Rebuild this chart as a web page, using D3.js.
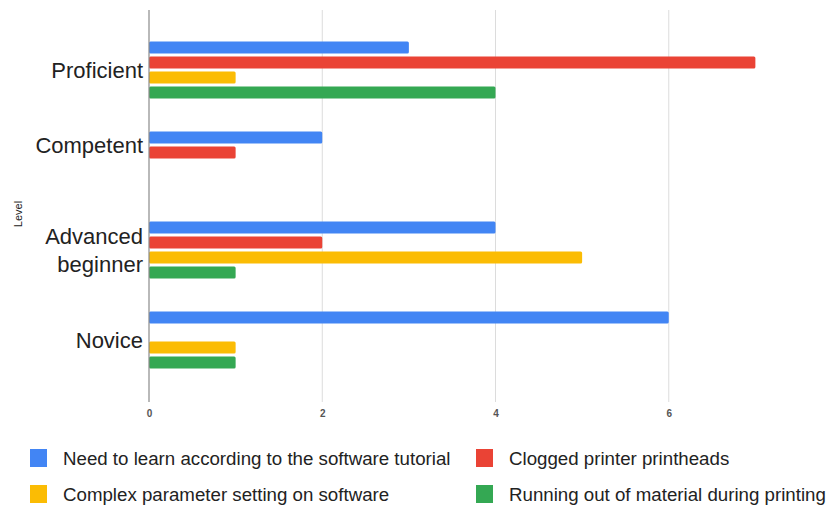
<!DOCTYPE html>
<html>
<head>
<meta charset="utf-8">
<script src="https://cdn.jsdelivr.net/npm/d3@7/dist/d3.min.js"></script>
<style>
  html, body { margin: 0; padding: 0; background: #fff; }
  svg { display: block; font-family: "Liberation Sans", Arial, Helvetica, sans-serif; }
</style>
</head>
<body>
<svg id="chart" width="838" height="508"></svg>
<script>
// ---- data ----
const categories = ["Proficient", "Competent", "Advanced beginner", "Novice"];
const seriesNames = [
  "Need to learn according to the software tutorial",
  "Clogged printer printheads",
  "Complex parameter setting on software",
  "Running out of material during printing"
];
const tutorialValues = [3, 2, 4, 6];
const cloggedValues  = [7, 1, 2, 0];
const complexValues  = [1, 0, 5, 1];
const materialValues = [4, 0, 1, 1];
const xTicks = [0, 2, 4, 6];
const seriesColors = ["#4285F4", "#EA4335", "#FBBC04", "#34A853"];
const axisTitle = "Level";

const seriesValues = [tutorialValues, cloggedValues, complexValues, materialValues];

const svg = d3.select("#chart");

const x = d3.scaleLinear().domain([0, 8]).range([149, 842]);
const y0 = d3.scaleBand().domain(categories).range([10, 400])
  .paddingInner(1 / 3).paddingOuter(1 / 3);
const y1 = d3.scaleBand().domain(seriesNames).range([0, y0.bandwidth()])
  .paddingInner(0.2).paddingOuter(0.1);

// gridlines
const grid = svg.append("g");
grid.selectAll("line.grid")
  .data(xTicks.filter(d => d !== 0))
  .join("line")
  .attr("class", "grid")
  .attr("x1", d => x(d)).attr("x2", d => x(d))
  .attr("y1", 10).attr("y2", 402)
  .attr("stroke", "#dcdcdc").attr("stroke-width", 1);

// x axis labels
const xAxis = d3.axisBottom(x).tickValues(xTicks).tickSize(0).tickPadding(8);
const xg = svg.append("g").attr("transform", "translate(0,402)").call(xAxis);
xg.select(".domain").remove();
xg.selectAll("text")
  .attr("font-size", 10).attr("font-weight", "bold")
  .attr("fill", "#555").attr("font-family", "Liberation Sans, Arial, sans-serif");

// bars
const groups = svg.append("g").selectAll("g")
  .data(categories)
  .join("g")
  .attr("transform", c => `translate(0,${y0(c)})`);

groups.selectAll("rect")
  .data((c, ci) => seriesNames.map((s, si) => ({ s, si, v: seriesValues[si][ci] })).filter(d => d.v > 0))
  .join("rect")
  .attr("x", x(0))
  .attr("y", d => y1(d.s))
  .attr("width", d => x(d.v) - x(0))
  .attr("height", y1.bandwidth())
  .attr("rx", 1.5)
  .attr("fill", d => seriesColors[d.si]);

// baseline axis at 0
svg.append("line")
  .attr("x1", x(0)).attr("x2", x(0))
  .attr("y1", 10).attr("y2", 402)
  .attr("stroke", "#8a8a8a").attr("stroke-width", 1.2);

// category labels (centered on the extent of the non-zero bars)
const labelG = svg.append("g");
categories.forEach((c, ci) => {
  const present = seriesNames.filter((s, si) => seriesValues[si][ci] > 0);
  const top = y0(c) + y1(present[0]) - y1.step() * y1.paddingInner() / 2;
  const bot = y0(c) + y1(present[present.length - 1]) + y1.bandwidth() + y1.step() * y1.paddingInner() / 2;
  const cy = (top + bot) / 2;
  const words = c === "Advanced beginner" ? ["Advanced", "beginner"] : [c];
  const lh = 28;
  const t = labelG.append("text")
    .attr("text-anchor", "end")
    .attr("font-size", 22)
    .attr("fill", "#222");
  words.forEach((w, i) => {
    t.append("tspan")
      .attr("x", x(0) - 6)
      .attr("y", cy + (i - (words.length - 1) / 2) * lh)
      .attr("dy", "0.35em")
      .text(w);
  });
});

// y axis title
svg.append("text")
  .attr("transform", "translate(22,214) rotate(-90)")
  .attr("text-anchor", "middle")
  .attr("font-size", 11)
  .attr("fill", "#222")
  .text(axisTitle);

// legend
const legendCols = [30, 476];
const legendRows = [458, 494];
const legend = svg.append("g");
seriesNames.forEach((s, i) => {
  const col = i % 2, row = Math.floor(i / 2);
  const lx = legendCols[col], ly = legendRows[row];
  legend.append("rect")
    .attr("x", lx).attr("y", ly - 9)
    .attr("width", 17).attr("height", 18)
    .attr("fill", seriesColors[i]);
  legend.append("text")
    .attr("x", lx + 33).attr("y", ly)
    .attr("dy", "0.35em")
    .attr("font-size", 18.7)
    .attr("fill", "#222")
    .text(s);
});
</script>
</body>
</html>
